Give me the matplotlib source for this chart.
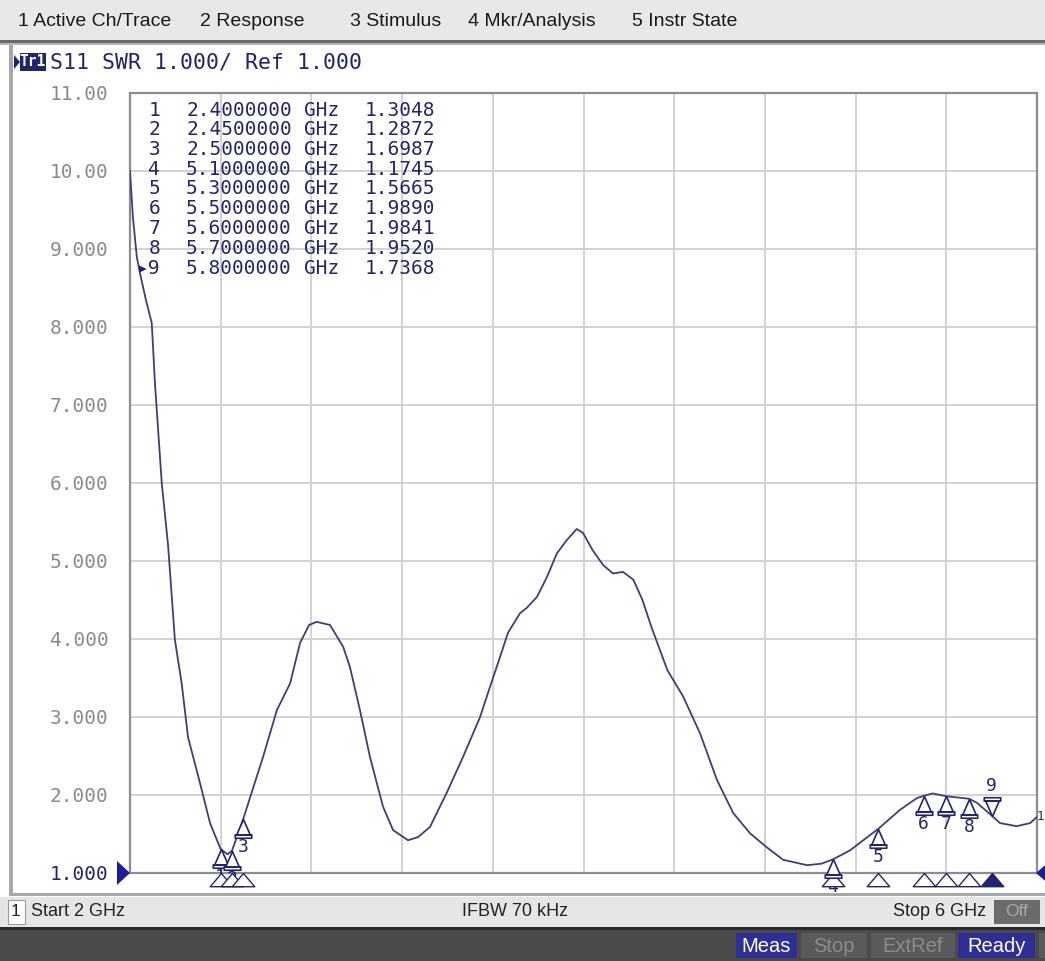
import matplotlib
matplotlib.use("Agg")
import matplotlib.pyplot as plt
from matplotlib.patches import Rectangle, Polygon
from matplotlib.path import Path

# ---------------- data ----------------
freq_ghz = [2.000, 2.013, 2.030, 2.044, 2.070, 2.096, 2.110, 2.140, 2.168, 2.198,
            2.228, 2.256, 2.309, 2.353, 2.400, 2.430, 2.450, 2.500, 2.587, 2.648,
            2.706, 2.750, 2.790, 2.823, 2.882, 2.940, 2.970, 3.014, 3.058, 3.116,
            3.160, 3.226, 3.270, 3.323, 3.397, 3.469, 3.544, 3.588, 3.632, 3.667,
            3.720, 3.750, 3.795, 3.838, 3.883, 3.927, 3.970, 3.998, 4.040, 4.086,
            4.130, 4.174, 4.220, 4.260, 4.300, 4.370, 4.440, 4.514, 4.589, 4.660,
            4.734, 4.808, 4.880, 4.986, 5.050, 5.100, 5.175, 5.300, 5.396, 5.470,
            5.500, 5.540, 5.600, 5.700, 5.735, 5.800, 5.837, 5.910, 5.970, 6.000]
swr = [10.00, 9.40, 8.90, 8.69, 8.35, 8.05, 7.28, 6.00, 5.20, 3.99,
       3.43, 2.74, 2.15, 1.64, 1.3048, 1.24, 1.2872, 1.6987, 2.49, 3.09,
       3.43, 3.95, 4.18, 4.22, 4.18, 3.90, 3.64, 3.09, 2.49, 1.85,
       1.55, 1.42, 1.46, 1.59, 2.03, 2.49, 3.00, 3.39, 3.77, 4.08,
       4.33, 4.40, 4.54, 4.79, 5.10, 5.27, 5.41, 5.36, 5.14, 4.95,
       4.84, 4.86, 4.76, 4.50, 4.15, 3.60, 3.26, 2.79, 2.19, 1.77,
       1.51, 1.33, 1.17, 1.10, 1.12, 1.1745, 1.29, 1.5665, 1.81, 1.96,
       1.989, 2.02, 1.984, 1.952, 1.90, 1.7368, 1.64, 1.60, 1.64, 1.72]

marker_ids = [1, 2, 3, 4, 5, 6, 7, 8, 9]
marker_freq = [2.40, 2.45, 2.50, 5.10, 5.30, 5.50, 5.60, 5.70, 5.80]
marker_swr = [1.3048, 1.2872, 1.6987, 1.1745, 1.5665, 1.9890, 1.9841, 1.9520, 1.7368]
active_marker = 9

y_ticks = [1, 2, 3, 4, 5, 6, 7, 8, 9, 10, 11]
y_tick_labels = ["1.000", "2.000", "3.000", "4.000", "5.000", "6.000",
                 "7.000", "8.000", "9.000", "10.00", "11.00"]
x_start, x_stop, x_divs = 2.0, 6.0, 10

menu_items = ["1 Active Ch/Trace", "2 Response", "3 Stimulus", "4 Mkr/Analysis", "5 Instr State"]
title_text = "S11 SWR 1.000/ Ref 1.000"
status_left, status_mid, status_right = "Start 2 GHz", "IFBW 70 kHz", "Stop 6 GHz"
buttons = ["Meas", "Stop", "ExtRef", "Ready"]

# ---------------- layout helpers ----------------
W, H = 1045, 961
fig = plt.figure(figsize=(W / 100, H / 100), dpi=100)
fig.patch.set_facecolor("white")


def fx(x):
    return x / W


def fy(y):
    return 1 - y / H


def rect(x0, y0, x1, y1, fc, ec="none", lw=0, z=-10):
    fig.patches.append(Rectangle((fx(x0), fy(y1)), (x1 - x0) / W, (y1 - y0) / H,
                                 transform=fig.transFigure, facecolor=fc,
                                 edgecolor=ec, lw=lw, zorder=z))


def ftext(x, y, s, **kw):
    kw.setdefault("va", "center")
    fig.text(fx(x), fy(y), s, **kw)


NAVY = "#24246e"
SANS = ["Liberation Sans", "DejaVu Sans"]
MONO = ["DejaVu Sans Mono"]

# top menu bar
rect(0, 0, W, 40, "#e8e8e8")
rect(0, 40, W, 43, "#6a6a6a")
rect(0, 43, W, 45, "#b8b8b8")
menu_x = [18, 200, 350, 468, 632]
for mx, item in zip(menu_x, menu_items):
    ftext(mx, 22, item, fontsize=14, family=SANS, color="#1a1a1a")

# chart panel frame
rect(9, 45, 13, 896, "#a8a8a8")
rect(9, 893, W, 896, "#a8a8a8")

# trace title
fig.patches.append(Polygon([(fx(14), fy(55)), (fx(14), fy(69)), (fx(20), fy(62))],
                           closed=True, transform=fig.transFigure, fc=NAVY, ec="none"))
rect(20, 53, 46, 71, NAVY, z=1)
ftext(33, 62, "Tr1", fontsize=10.5, family=MONO, color="white", fontweight="bold", ha="center")
ftext(50, 62, title_text, fontsize=15.5, family=MONO, color=NAVY)

# status bar
rect(0, 897, W, 927, "#e6e6e6")
rect(8, 900, 25, 924, "white", ec="#9a9a9a", lw=0.8)
ftext(16, 912, "1", fontsize=12.5, family=SANS, color="#222222", ha="center")
ftext(31, 912, status_left, fontsize=13, family=SANS, color="#222222")
ftext(515, 912, status_mid, fontsize=13, family=SANS, color="#222222", ha="center")
ftext(986, 912, status_right, fontsize=13, family=SANS, color="#222222", ha="right")
rect(994, 900, 1040, 924, "#6b6b6b")
ftext(1017, 912, "Off", fontsize=12.5, family=SANS, color="#a8a8a8", ha="center")

# bottom dark bar
rect(0, 927, W, 930, "#2a2a2a")
rect(0, 930, W, H, "#4a4a4a")
btn_x = [(736, 797), (801, 867), (871, 955), (958, 1035)]
btn_bg = ["#2e2e96", "#5a5a5a", "#5a5a5a", "#2e2e96"]
btn_fg = ["white", "#8c8c8c", "#8c8c8c", "white"]
for (x0, x1), lab, bg, fg in zip(btn_x, buttons, btn_bg, btn_fg):
    rect(x0, 933, x1, 958, bg, z=-5)
    ftext((x0 + x1) / 2, 946, lab, fontsize=14.5, family=SANS, color=fg, ha="center")
rect(1039, 933, W, 958, "#5a5a5a", z=-5)

# ---------------- main axes ----------------
L, R, T, B = 130, 1037, 93, 873
ax = fig.add_axes([fx(L), fy(B), (R - L) / W, (B - T) / H])
ax.set_xlim(x_start, x_stop)
ax.set_ylim(y_ticks[0], y_ticks[-1])
step = (x_stop - x_start) / x_divs
ax.set_xticks([x_start + i * step for i in range(x_divs + 1)])
ax.set_yticks(y_ticks)
ax.grid(True, color="#d2d2d2", lw=1.4)
ax.set_axisbelow(True)
ax.tick_params(axis="x", length=0, labelbottom=False)
ax.tick_params(axis="y", length=0, pad=15.5)
ax.set_yticklabels(y_tick_labels, family=MONO, fontsize=14)
for lab in ax.get_yticklabels():
    lab.set_color("#8a8a8a")
ax.get_yticklabels()[0].set_color(NAVY)
for sp in ax.spines.values():
    sp.set_color("#8c8c8c")
    sp.set_linewidth(1.6)

ax.plot(freq_ghz, swr, color="#3e3e7c", lw=1.3, zorder=3)

# marker glyphs
below_path = Path([(0, 0), (-0.36, -0.82), (0.36, -0.82), (0, 0),
                   (-0.44, -0.82), (0.44, -0.82), (0.44, -1.0), (-0.44, -1.0), (-0.44, -0.82)],
                  [Path.MOVETO, Path.LINETO, Path.LINETO, Path.CLOSEPOLY,
                   Path.MOVETO, Path.LINETO, Path.LINETO, Path.LINETO, Path.CLOSEPOLY])
above_path = Path([(x, -y) for x, y in below_path.vertices], below_path.codes)
bottom_path = Path([(0, 0), (-0.85, -1), (0.85, -1), (0, 0)],
                   [Path.MOVETO, Path.LINETO, Path.LINETO, Path.CLOSEPOLY])

for mid, mf, ms in zip(marker_ids, marker_freq, marker_swr):
    if mid == active_marker:
        ax.plot([mf], [ms], marker=above_path, ms=27, mfc="white", mec=NAVY,
                mew=1.2, ls="none", zorder=5, clip_on=False)
        ax.annotate(str(mid), (mf, ms), xytext=(0, 30), textcoords="offset pixels",
                    ha="center", va="center", family=MONO, fontsize=13, color=NAVY,
                    annotation_clip=False)
    else:
        ax.plot([mf], [ms], marker=below_path, ms=27, mfc="white", mec=NAVY,
                mew=1.2, ls="none", zorder=5, clip_on=False)
        ax.annotate(str(mid), (mf, ms), xytext=(0, -28), textcoords="offset pixels",
                    ha="center", va="center", family=MONO, fontsize=13, color=NAVY,
                    annotation_clip=False)
    filled = mid == active_marker
    ax.plot([mf], [y_ticks[0]], marker=bottom_path, ms=19,
            mfc=NAVY if filled else "white", mec=NAVY, mew=1.0, ls="none",
            zorder=4, clip_on=False)

# marker table
row_y0, row_dy = 110, 19.75
for i, (mid, mf, ms) in enumerate(zip(marker_ids, marker_freq, marker_swr)):
    yy = row_y0 + i * row_dy
    lab = ("\u25b8" if mid == active_marker else "") + str(mid)
    ftext(160, yy, lab, ha="right", family=MONO, fontsize=14, color=NAVY)
    ftext(186, yy, f"{mf:.7f}", family=MONO, fontsize=14, color=NAVY)
    ftext(304, yy, "GHz", family=MONO, fontsize=14, color=NAVY)
    ftext(365, yy, f"{ms:.4f}", family=MONO, fontsize=14, color=NAVY)

# reference level arrows
fig.patches.append(Polygon([(fx(117), fy(861)), (fx(117), fy(885)), (fx(130), fy(873))],
                           closed=True, transform=fig.transFigure, fc="#1c1c9c", ec="none", zorder=6))
fig.patches.append(Polygon([(fx(1036), fy(873)), (fx(1050), fy(861)), (fx(1050), fy(885))],
                           closed=True, transform=fig.transFigure, fc="#1c1c9c", ec="none", zorder=6))
ftext(1037, 817, "1", family=MONO, fontsize=9, color=NAVY)

fig.savefig("out.png", dpi=100, facecolor=fig.get_facecolor())
